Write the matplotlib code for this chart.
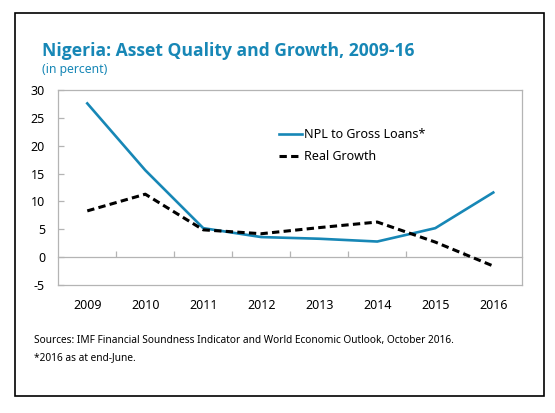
import matplotlib
matplotlib.use('Agg')
import matplotlib.pyplot as plt
from matplotlib.patches import Rectangle

# ---- data ----
years = ['2009', '2010', '2011', '2012', '2013', '2014', '2015', '2016']
npl = [27.6, 15.6, 5.2, 3.6, 3.3, 2.8, 5.2, 11.6]
growth = [8.3, 11.3, 4.9, 4.2, 5.3, 6.3, 2.7, -1.6]
yticks = [-5, 0, 5, 10, 15, 20, 25, 30]

title = 'Nigeria: Asset Quality and Growth, 2009-16'
subtitle = '(in percent)'
note1 = 'Sources: IMF Financial Soundness Indicator and World Economic Outlook, October 2016.'
note2 = '*2016 as at end-June.'

BLUE = '#1787b6'
GREY = '#b4b4b4'

plt.rcParams['font.family'] = ['Noto Sans', 'DejaVu Sans']
plt.rcParams['axes.unicode_minus'] = False

fig = plt.figure(figsize=(5.55, 4.13), dpi=100)
ax = fig.add_axes([0.105, 0.310, 0.836, 0.472])

x = list(range(len(years)))
ax.plot(x, npl, color=BLUE, lw=1.9, label='NPL to Gross Loans*')
ax.plot(x, growth, color='black', lw=2.2, dashes=(2.4, 1.4), label='Real Growth')

ymin, ymax = yticks[0], yticks[-1]
ax.set_xlim(-0.5, len(years) - 0.5)
ax.set_ylim(ymin, ymax)
ax.set_yticks(yticks)
ax.set_xticks(x)
ax.set_xticklabels(years)
ax.tick_params(axis='x', length=0, pad=10, labelsize=9)
ax.tick_params(axis='y', direction='in', length=4.3, width=0.9, color=GREY,
               pad=9.5, labelsize=9)
for s in ax.spines.values():
    s.set_color(GREY)
    s.set_linewidth(0.9)

# zero line with category-boundary ticks
sec = ax.secondary_xaxis((0 - ymin) / (ymax - ymin))
sec.set_xticks([i + 0.5 for i in range(len(years) - 1)])
sec.set_xticklabels([])
sec.tick_params(direction='in', length=4.3, width=0.9, color=GREY)
for s in sec.spines.values():
    s.set_color(GREY)
    s.set_linewidth(0.9)

leg = ax.legend(loc='center left', bbox_to_anchor=(0.476, 0.715), frameon=False,
                fontsize=9, handlelength=1.8, handletextpad=0.15,
                labelspacing=0.7, borderpad=0, borderaxespad=0)

fig.text(0.075, 1 - 50.7 / 413, title, color=BLUE, fontsize=12.6,
         fontweight='bold', family=['Open Sans', 'DejaVu Sans'],
         va='center', ha='left')
fig.text(0.075, 1 - 69.3 / 413, subtitle, color=BLUE, fontsize=8.8,
         va='center', ha='left')
fig.text(0.062, 1 - 340.7 / 413, note1, fontsize=7.3, va='center', ha='left')
fig.text(0.062, 1 - 357.3 / 413, note2, fontsize=7.3, va='center', ha='left')

fig.add_artist(Rectangle((15.3 / 555, 1 - 396 / 413), 529 / 555, (396 - 13.3) / 413,
                         transform=fig.transFigure, fill=False,
                         edgecolor='black', lw=1.2))

fig.savefig('out.png', dpi=100)
